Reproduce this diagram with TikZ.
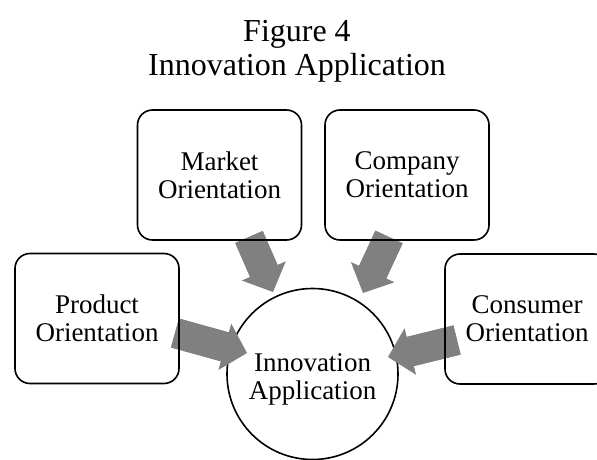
\documentclass[tikz,border=0pt]{standalone}
\usepackage{fontspec}
\setmainfont{Liberation Serif}
\usetikzlibrary{arrows.meta}
\definecolor{arrowgray}{RGB}{128,128,128}
\tikzset{
  label font/.style={font=\fontsize{27}{28}\selectfont},
  title font/.style={font=\fontsize{32}{34}\selectfont},
  orient/.style={draw=black, line width=1.6pt, rounded corners=15pt,
    minimum width=164pt, minimum height=130pt, align=center,
    inner sep=0pt, label font},
  hub/.style={circle, draw=black, fill=white, line width=1.6pt,
    minimum size=171pt, inner sep=0pt},
  % shaft that runs on into the head, so no seam shows
  shaft/.style={draw=arrowgray, line width=30pt, shorten >=18pt},
  feed/.style={draw=arrowgray, line width=30pt,
    -{Triangle[length=23pt, width=48pt, line width=0pt]}}
}
\begin{document}
\begin{tikzpicture}[x=1pt, y=-1pt]
  \useasboundingbox (0,0) rectangle (597,460);
  \clip (0,0) rectangle (597,460);

  % title
  \node[align=center, inner sep=0pt, title font] (title) at (297,51)
    {Figure 4\\Innovation Application};

  % central circle
  \node[hub] (hub) at (312.5,374) {};

  % arrow end points
  \coordinate (mS) at (249,237);  \coordinate (mE) at (273,292);
  \coordinate (cS) at (389,237);  \coordinate (cE) at (363,293);
  \coordinate (pS) at (175,333);  \coordinate (pE) at (247,353);
  \coordinate (kS) at (457,340);  \coordinate (kE) at (388,357);

  % block arrows into the circle
  \draw[shaft] (mS) -- (mE);  \draw[feed] (mS) -- (mE);
  \draw[shaft] (cS) -- (cE);  \draw[feed] (cS) -- (cE);
  \draw[shaft] (pS) -- (pE);  \draw[feed] (pS) -- (pE);
  \draw[shaft] (kS) -- (kE);  \draw[feed] (kS) -- (kE);

  \node[align=center, inner sep=0pt, label font] (hubtext) at (312.5,379)
    {Innovation\\Application};

  % surrounding boxes (outlines only, on top)
  \node[orient] (market)   at (219.5,175) {Market\\Orientation};
  \node[orient] (company)  at (407,175)   {Company\\Orientation};
  \node[orient] (product)  at (97,318.5)  {Product\\Orientation};
  \node[orient] (consumer) at (527,319)   {Consumer\\Orientation};
\end{tikzpicture}
\end{document}
